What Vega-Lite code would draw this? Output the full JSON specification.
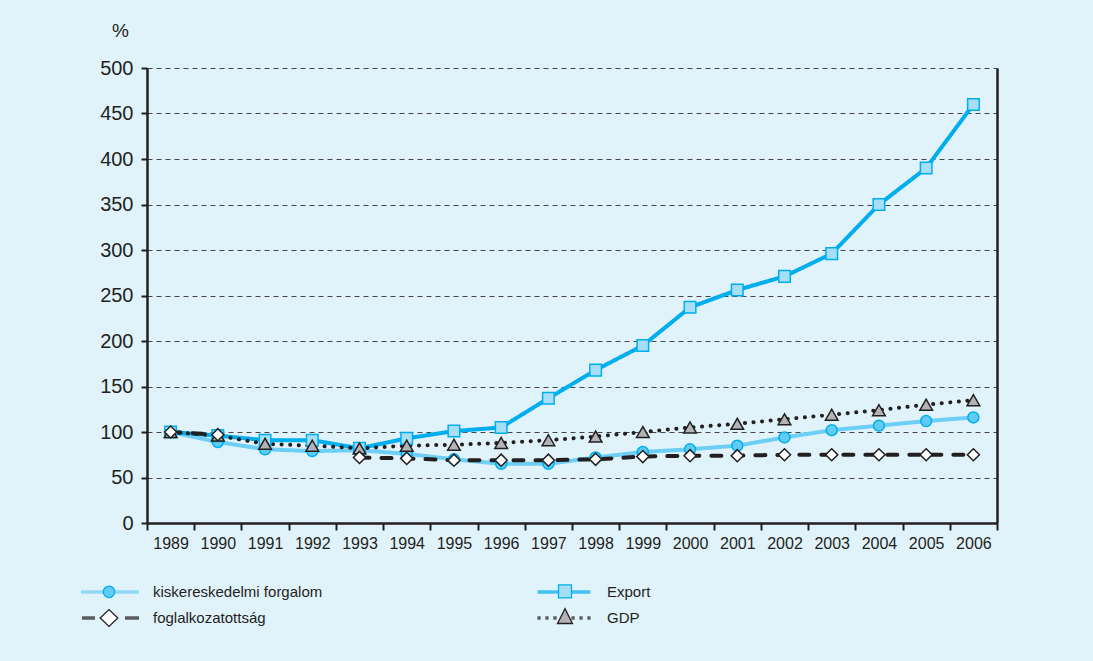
{
  "$schema": "https://vega.github.io/schema/vega-lite/v6.json",
  "autosize": "none",
  "width": 850,
  "height": 455,
  "padding": {"left": 147, "top": 68, "right": 96, "bottom": 138},
  "background": "#e0f3fb",
  "config": {
    "view": {"stroke": null},
    "font": "Liberation Sans",
    "axis": {"labelFont": "Liberation Sans", "titleFont": "Liberation Sans", "labelColor": "#231f20", "titleColor": "#231f20", "domainColor": "#231f20", "tickColor": "#231f20"},
    "legend": {"labelFont": "Liberation Sans", "labelColor": "#231f20"}
  },
  "data": {
    "values": [
      {"year": 1989, "series": "kiskereskedelmi forgalom", "value": 100},
      {"year": 1990, "series": "kiskereskedelmi forgalom", "value": 89},
      {"year": 1991, "series": "kiskereskedelmi forgalom", "value": 81},
      {"year": 1992, "series": "kiskereskedelmi forgalom", "value": 79},
      {"year": 1993, "series": "kiskereskedelmi forgalom", "value": 80},
      {"year": 1994, "series": "kiskereskedelmi forgalom", "value": 76},
      {"year": 1995, "series": "kiskereskedelmi forgalom", "value": 70},
      {"year": 1996, "series": "kiskereskedelmi forgalom", "value": 65},
      {"year": 1997, "series": "kiskereskedelmi forgalom", "value": 65},
      {"year": 1998, "series": "kiskereskedelmi forgalom", "value": 72},
      {"year": 1999, "series": "kiskereskedelmi forgalom", "value": 78},
      {"year": 2000, "series": "kiskereskedelmi forgalom", "value": 81},
      {"year": 2001, "series": "kiskereskedelmi forgalom", "value": 85},
      {"year": 2002, "series": "kiskereskedelmi forgalom", "value": 94},
      {"year": 2003, "series": "kiskereskedelmi forgalom", "value": 102},
      {"year": 2004, "series": "kiskereskedelmi forgalom", "value": 107},
      {"year": 2005, "series": "kiskereskedelmi forgalom", "value": 112},
      {"year": 2006, "series": "kiskereskedelmi forgalom", "value": 116},
      {"year": 1989, "series": "Export", "value": 100},
      {"year": 1990, "series": "Export", "value": 96},
      {"year": 1991, "series": "Export", "value": 91},
      {"year": 1992, "series": "Export", "value": 91},
      {"year": 1993, "series": "Export", "value": 82},
      {"year": 1994, "series": "Export", "value": 93},
      {"year": 1995, "series": "Export", "value": 101},
      {"year": 1996, "series": "Export", "value": 105},
      {"year": 1997, "series": "Export", "value": 137},
      {"year": 1998, "series": "Export", "value": 168},
      {"year": 1999, "series": "Export", "value": 195},
      {"year": 2000, "series": "Export", "value": 237},
      {"year": 2001, "series": "Export", "value": 256},
      {"year": 2002, "series": "Export", "value": 271},
      {"year": 2003, "series": "Export", "value": 296},
      {"year": 2004, "series": "Export", "value": 350},
      {"year": 2005, "series": "Export", "value": 390},
      {"year": 2006, "series": "Export", "value": 460},
      {"year": 1989, "series": "GDP", "value": 100},
      {"year": 1990, "series": "GDP", "value": 96},
      {"year": 1991, "series": "GDP", "value": 87},
      {"year": 1992, "series": "GDP", "value": 85},
      {"year": 1993, "series": "GDP", "value": 82},
      {"year": 1994, "series": "GDP", "value": 85},
      {"year": 1995, "series": "GDP", "value": 86},
      {"year": 1996, "series": "GDP", "value": 88},
      {"year": 1997, "series": "GDP", "value": 91},
      {"year": 1998, "series": "GDP", "value": 95},
      {"year": 1999, "series": "GDP", "value": 100},
      {"year": 2000, "series": "GDP", "value": 105},
      {"year": 2001, "series": "GDP", "value": 109},
      {"year": 2002, "series": "GDP", "value": 114},
      {"year": 2003, "series": "GDP", "value": 119},
      {"year": 2004, "series": "GDP", "value": 124},
      {"year": 2005, "series": "GDP", "value": 130},
      {"year": 2006, "series": "GDP", "value": 135},
      {"year": 1989, "series": "foglalkozatottság", "value": 100},
      {"year": 1990, "series": "foglalkozatottság", "value": 97},
      {"year": 1991, "series": "foglalkozatottság", "value": null},
      {"year": 1992, "series": "foglalkozatottság", "value": null},
      {"year": 1993, "series": "foglalkozatottság", "value": 72},
      {"year": 1994, "series": "foglalkozatottság", "value": 71},
      {"year": 1995, "series": "foglalkozatottság", "value": 69},
      {"year": 1996, "series": "foglalkozatottság", "value": 69},
      {"year": 1997, "series": "foglalkozatottság", "value": 69},
      {"year": 1998, "series": "foglalkozatottság", "value": 70},
      {"year": 1999, "series": "foglalkozatottság", "value": 73},
      {"year": 2000, "series": "foglalkozatottság", "value": 74},
      {"year": 2001, "series": "foglalkozatottság", "value": 74},
      {"year": 2002, "series": "foglalkozatottság", "value": 75},
      {"year": 2003, "series": "foglalkozatottság", "value": 75},
      {"year": 2004, "series": "foglalkozatottság", "value": 75},
      {"year": 2005, "series": "foglalkozatottság", "value": 75},
      {"year": 2006, "series": "foglalkozatottság", "value": 75}
    ]
  },
  "layer": [
    {
      "mark": {"type": "line", "strokeCap": "round", "invalid": "break-paths-show-domains"},
      "encoding": {
        "x": {"field": "year", "type": "ordinal", "scale": {"type": "band", "paddingInner": 0, "paddingOuter": 0},
          "axis": {"title": null, "labelAngle": 0, "labelFontSize": 16, "labelPadding": 5, "tickBand": "extent", "tickSize": 7, "tickWidth": 2, "domainWidth": 2.5, "grid": false}},
        "y": {"field": "value", "type": "quantitative", "scale": {"domain": [0, 500], "nice": false},
          "axis": {"values": [0, 50, 100, 150, 200, 250, 300, 350, 400, 450, 500], "labelFontSize": 20, "labelPadding": 8, "tickSize": 6, "tickWidth": 2, "domainWidth": 2.5,
            "grid": true, "gridDash": [5, 4], "gridColor": "#444444", "gridWidth": 1,
            "title": "%", "titleAngle": 0, "titleX": -27, "titleY": -38, "titleAlign": "center", "titleBaseline": "middle", "titleFontSize": 19, "titleFontWeight": "normal"}},
        "stroke": {"field": "series", "type": "nominal", "legend": null,
          "scale": {"domain": ["kiskereskedelmi forgalom", "Export", "foglalkozatottság", "GDP"], "range": ["#6dcff6", "#00aeef", "#231f20", "#231f20"]}},
        "strokeDash": {"field": "series", "type": "nominal", "legend": null,
          "scale": {"domain": ["kiskereskedelmi forgalom", "Export", "foglalkozatottság", "GDP"], "range": [[1, 0], [1, 0], [10, 12], [0.1, 8.5]]}},
        "strokeWidth": {"field": "series", "type": "nominal", "legend": null,
          "scale": {"domain": ["kiskereskedelmi forgalom", "Export", "foglalkozatottság", "GDP"], "range": [4, 4, 3, 3.5]}}
      }
    },
    {
      "mark": {"type": "point", "filled": true, "strokeWidth": 1.5, "opacity": 1},
      "encoding": {
        "x": {"field": "year", "type": "ordinal", "scale": {"type": "band", "paddingInner": 0, "paddingOuter": 0},
          "axis": {"title": null, "labelAngle": 0, "labelFontSize": 16, "labelPadding": 5, "tickBand": "extent", "tickSize": 7, "tickWidth": 2, "domainWidth": 2.5, "grid": false}},
        "y": {"field": "value", "type": "quantitative", "scale": {"domain": [0, 500], "nice": false},
          "axis": {"orient": "right", "labels": false, "ticks": false, "grid": false, "domain": true, "domainWidth": 2.5, "title": null}},
        "shape": {"field": "series", "type": "nominal", "legend": null,
          "scale": {"domain": ["kiskereskedelmi forgalom", "Export", "foglalkozatottság", "GDP"], "range": ["circle", "square", "diamond", "triangle-up"]}},
        "fill": {"field": "series", "type": "nominal", "legend": null,
          "scale": {"domain": ["kiskereskedelmi forgalom", "Export", "foglalkozatottság", "GDP"], "range": ["#62cbf3", "#a6def6", "#ffffff", "#b1b3b6"]}},
        "stroke": {"field": "series", "type": "nominal", "legend": null,
          "scale": {"domain": ["kiskereskedelmi forgalom", "Export", "foglalkozatottság", "GDP"], "range": ["#00aeef", "#00aeef", "#231f20", "#231f20"]}},
        "size": {"field": "series", "type": "nominal", "legend": null,
          "scale": {"domain": ["kiskereskedelmi forgalom", "Export", "foglalkozatottság", "GDP"], "range": [120, 160, 220, 200]}}
      }
    },
    {
      "transform": [{"filter": "datum.value > 1000"}],
      "mark": {"type": "point", "filled": false, "size": 484, "strokeWidth": 3.5},
      "encoding": {
        "shape": {"field": "series", "type": "nominal",
          "scale": {"domain": ["kiskereskedelmi forgalom", "foglalkozatottság", "Export", "GDP"],
            "range": ["M-2.64,0M2.64,0M-2.64,0H2.64", "M-2.64,0M2.64,0M-2.55,0H-1.36M1.36,0H2.64", "M-2.64,0M2.64,0M-2.4,0H2.4", "M-2.64,0M2.64,0M-2.42,0H-2.12M-1.7,0H-1.4M-0.97,0H-0.67M0.67,0H0.97M1.4,0H1.7M2.12,0H2.42"]},
          "legend": {"title": null, "orient": "none", "legendX": -50, "legendY": 511, "columns": 2, "columnPadding": 204, "rowPadding": 5, "labelOffset": 30, "labelLimit": 400, "padding": 0, "symbolSize": 484, "symbolStrokeWidth": 3.5, "labelFontSize": 15, "symbolFillColor": "transparent"}},
        "stroke": {"field": "series", "type": "nominal",
          "scale": {"domain": ["kiskereskedelmi forgalom", "foglalkozatottság", "Export", "GDP"], "range": ["#6dcff6", "#231f20", "#00aeef", "#231f20"]}}
      }
    },
    {
      "transform": [{"filter": "datum.value > 1000"}],
      "mark": {"type": "point", "filled": true, "size": 484, "strokeWidth": 1.3, "opacity": 1},
      "encoding": {
        "shape": {"field": "series", "type": "nominal",
          "scale": {"domain": ["k", "f", "e", "g"],
            "range": ["M-2.74,0M2.74,0M-0.52,0A0.52,0.52,0,1,0,0.52,0A0.52,0.52,0,1,0,-0.52,0Z", "M-2.74,0M2.74,0M-0.8,0L0,-0.77L0.8,0L0,0.77Z", "M-2.74,0M2.74,0M-0.59,-0.59H0.59V0.59H-0.59Z", "M-2.74,0M2.74,0M-0.68,0.5L0,-0.85L0.68,0.5Z"]},
          "legend": {"title": null, "orient": "none", "legendX": -50, "legendY": 511, "columns": 2, "columnPadding": 381, "rowPadding": 5, "labelOffset": 30, "labelLimit": 400, "padding": 0, "symbolSize": 484, "symbolStrokeWidth": 1.3, "labelFontSize": 15, "labelOpacity": 0,
            "labelExpr": "''"}},
        "fill": {"field": "series", "type": "nominal",
          "scale": {"domain": ["k", "f", "e", "g"], "range": ["#62cbf3", "#ffffff", "#a6def6", "#b1b3b6"]}},
        "stroke": {"field": "series", "type": "nominal",
          "scale": {"domain": ["k", "f", "e", "g"], "range": ["#00aeef", "#231f20", "#00aeef", "#231f20"]}}
      }
    }
  ],
  "resolve": {
    "scale": {"shape": "independent", "fill": "independent", "stroke": "independent", "size": "independent", "strokeDash": "independent", "strokeWidth": "independent"},
    "axis": {"y": "independent"},
    "legend": {"shape": "independent", "fill": "independent", "stroke": "independent"}
  }
}
